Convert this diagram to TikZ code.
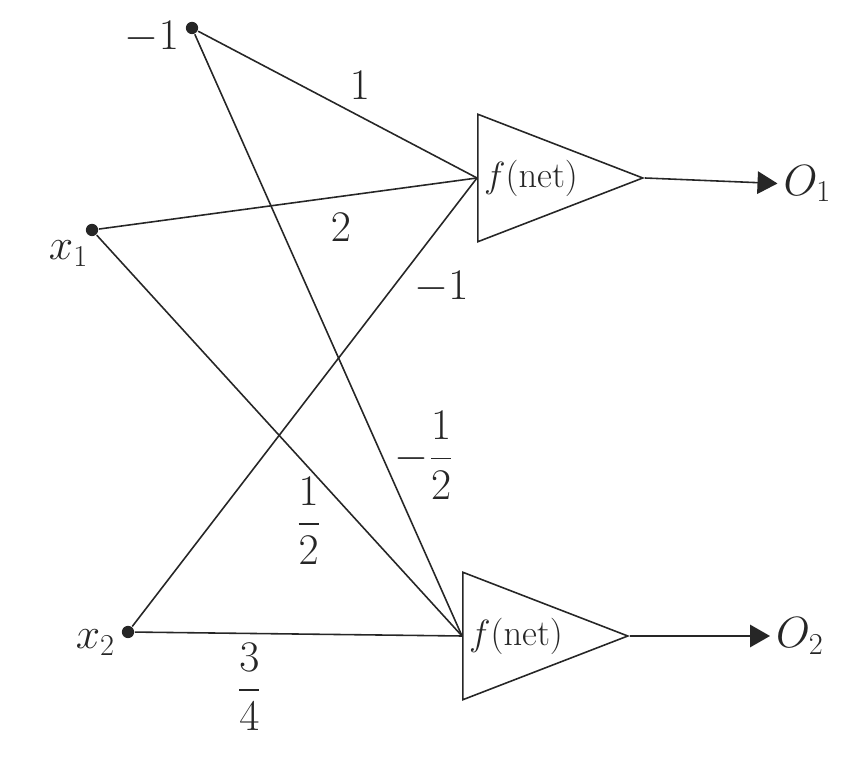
\documentclass[tikz,border=0pt]{standalone}
\usepackage{amsmath}
\usetikzlibrary{positioning, arrows.meta, shapes.geometric}

\begin{document}
\begin{tikzpicture}[>={Triangle[length=4mm, width=4.5mm]}, line width=0.9pt, gray!30!black]
\useasboundingbox (0,0) rectangle (16.98,15.22);
\tikzset{
    dot/.style={circle, fill, inner sep=0pt, minimum size=7pt},
    neuron/.style={isosceles triangle, isosceles triangle stretches, draw,
        minimum width=2.55cm, minimum height=3.3cm, inner sep=0pt,
        font=\fontsize{22}{26}\selectfont},
    wt/.style={font=\fontsize{26}{30}\selectfont, inner sep=3pt}
}
\node[dot, label={[wt, yshift=-5pt]left:$-1$}] (bias) at (3.84,14.66) {};
\node[dot, label={[wt, xshift=4pt]below left:$x_1$}] (x1) at (1.84,10.62) {};
\node[dot, label={[wt, yshift=-6pt]left:$x_2$}] (x2) at (2.56,2.58) {};

\node[neuron, anchor=lower side] (n1) at (9.54,11.66) {$f(\mathrm{net})$};
\node[neuron, anchor=lower side] (n2) at (9.24,2.50) {$f(\mathrm{net})$};

\node[wt, anchor=west] (o1) at (15.55,11.55) {$O_1$};
\node[wt, anchor=west] (o2) at (15.40,2.50) {$O_2$};

\draw (bias) -- (n1.lower side) node[wt, pos=0.58, above=6pt] {$1$};
\draw (x1) -- (n1.lower side) node[wt, pos=0.64, below=6pt] {$2$};
\draw (x2) -- (n1.lower side) node[wt, pos=0.78, anchor=west, xshift=4pt, yshift=-6pt] {$-1$};
\draw (bias) -- (n2.lower side) node[wt, pos=0.70, right=4pt] {$-\dfrac{1}{2}$};
\draw (x1) -- (n2.lower side) node[wt, pos=0.58, below=2pt] {$\dfrac{1}{2}$};
\draw (x2) -- (n2.lower side) node[wt, pos=0.35, below=2pt] {$\dfrac{3}{4}$};

\draw[->] (n1.apex) -- (o1.west);
\draw[->] (n2.apex) -- (o2.west);
\end{tikzpicture}
\end{document}
